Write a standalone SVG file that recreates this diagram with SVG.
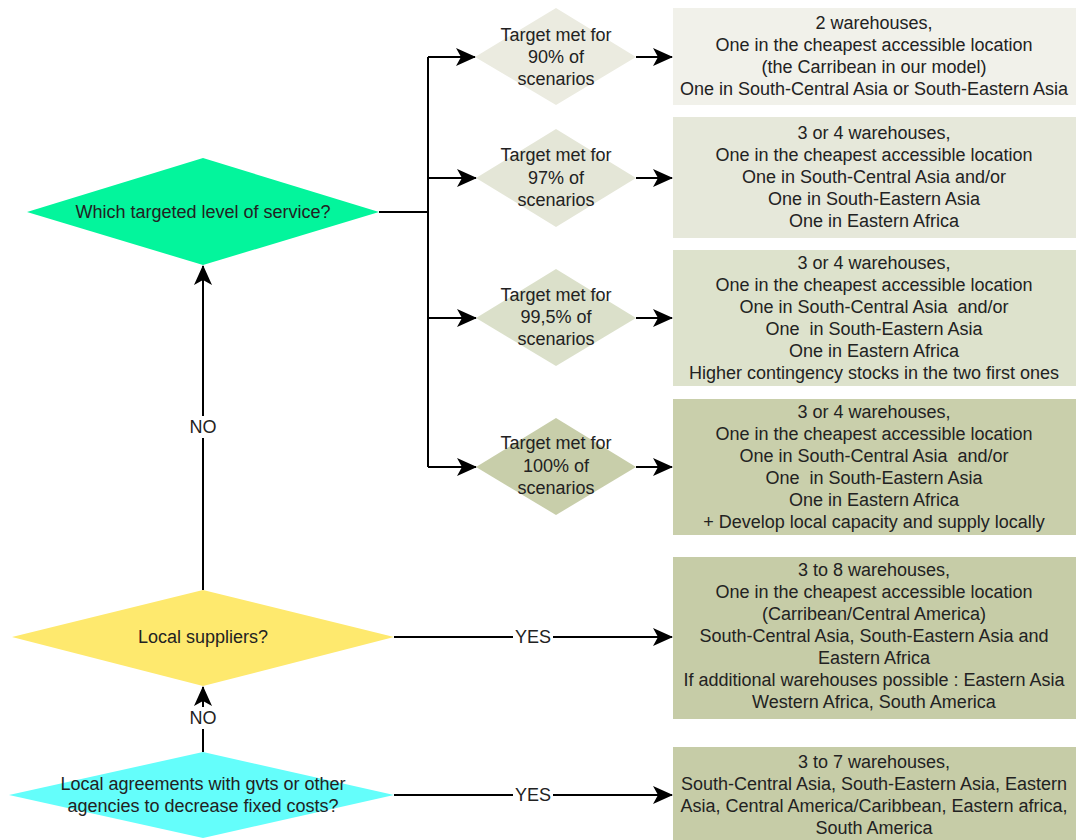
<svg xmlns="http://www.w3.org/2000/svg" width="1076" height="840" viewBox="0 0 1076 840">
<style>
text{font-family:"Liberation Sans",Arial,sans-serif;font-size:18px;fill:#222;text-anchor:middle}
.ln{stroke:#000;stroke-width:2;fill:none}
.arr{marker-end:url(#ah)}
.lbl{fill:#fff}
</style>
<defs>
<marker id="ah" markerUnits="userSpaceOnUse" markerWidth="20" markerHeight="18" refX="19" refY="9" orient="auto">
<path d="M0,0 L20,9 L0,18 L5,9 Z" fill="#000"/>
</marker>
</defs>
<rect width="1076" height="840" fill="#fff"/>
<g id="connectors">
<path class="ln" d="M379,212 H428"/>
<path class="ln" d="M428,57 V467"/>
<path class="ln arr" d="M428,57 H475"/>
<path class="ln arr" d="M428,178 H476"/>
<path class="ln arr" d="M428,318 H476"/>
<path class="ln arr" d="M428,467 H476"/>
<path class="ln arr" d="M636,57 H672"/>
<path class="ln arr" d="M636,178 H672"/>
<path class="ln arr" d="M636,318 H672"/>
<path class="ln arr" d="M636,467 H672"/>
<path class="ln arr" d="M203,590 V266"/>
<path class="ln arr" d="M203,752 V687"/>
<path class="ln arr" d="M394,637 H672"/>
<path class="ln arr" d="M394,795 H672"/>
<rect class="lbl" x="186" y="416" width="34" height="22"/>
<text x="203" y="433">NO</text>
<rect class="lbl" x="186" y="707" width="34" height="22"/>
<text x="203" y="724">NO</text>
<rect class="lbl" x="513" y="628" width="40" height="18"/>
<text x="533" y="643">YES</text>
<rect class="lbl" x="513" y="786" width="40" height="18"/>
<text x="533" y="801">YES</text>
</g>
<g id="q-service">
<polygon points="203,158 379,212 203,265 27,212" fill="#03f59c"/>
<text x="203" y="218">Which targeted level of service?</text>
</g>
<g id="q-suppliers">
<polygon points="203,590 394,637 203,686 12,637" fill="#fee96e"/>
<text x="203" y="643">Local suppliers?</text>
</g>
<g id="q-agreements">
<polygon points="203,752 394,795 203,838 9,795" fill="#64fefb"/>
<text x="203" y="790">Local agreements with gvts or other</text>
<text x="203" y="812">agencies to decrease fixed costs?</text>
</g>
<g id="t90">
<polygon points="556,8 636,57 556,105 475,57" fill="#ebebe0"/>
<text x="556" y="41">Target met for</text>
<text x="556" y="63">90% of</text>
<text x="556" y="85">scenarios</text>
</g>
<g id="t97">
<polygon points="556,129 636,178 556,227 476,178" fill="#e4e6d7"/>
<text x="556" y="161">Target met for</text>
<text x="556" y="184">97% of</text>
<text x="556" y="206">scenarios</text>
</g>
<g id="t995">
<polygon points="556,269 636,318 556,366 476,318" fill="#dbe0ca"/>
<text x="556" y="301">Target met for</text>
<text x="556" y="323">99,5% of</text>
<text x="556" y="345">scenarios</text>
</g>
<g id="t100">
<polygon points="556,418 636,467 556,515 476,467" fill="#c8ceaa"/>
<text x="556" y="449">Target met for</text>
<text x="556" y="472">100% of</text>
<text x="556" y="494">scenarios</text>
</g>
<g id="r90">
<rect x="673" y="8" width="403" height="97" fill="#f1f1ea"/>
<text x="874" y="29">2 warehouses,</text>
<text x="874" y="51">One in the cheapest accessible location</text>
<text x="874" y="73">(the Carribean in our model)</text>
<text x="874" y="95">One in South-Central Asia or South-Eastern Asia</text>
</g>
<g id="r97">
<rect x="673" y="117" width="403" height="121" fill="#e6e8da"/>
<text x="874" y="139">3 or 4 warehouses,</text>
<text x="874" y="161">One in the cheapest accessible location</text>
<text x="874" y="183">One in South-Central Asia and/or</text>
<text x="874" y="205">One in South-Eastern Asia</text>
<text x="874" y="227">One in Eastern Africa</text>
</g>
<g id="r995">
<rect x="673" y="250" width="403" height="136" fill="#dde2cc"/>
<text x="874" y="269">3 or 4 warehouses,</text>
<text x="874" y="291">One in the cheapest accessible location</text>
<text x="874" y="313" xml:space="preserve">One in South-Central Asia  and/or</text>
<text x="874" y="335" xml:space="preserve">One  in South-Eastern Asia</text>
<text x="874" y="357">One in Eastern Africa</text>
<text x="874" y="379">Higher contingency stocks in the two first ones</text>
</g>
<g id="r100">
<rect x="673" y="399" width="403" height="136" fill="#c9cfab"/>
<text x="874" y="418">3 or 4 warehouses,</text>
<text x="874" y="440">One in the cheapest accessible location</text>
<text x="874" y="462" xml:space="preserve">One in South-Central Asia  and/or</text>
<text x="874" y="484" xml:space="preserve">One  in South-Eastern Asia</text>
<text x="874" y="506">One in Eastern Africa</text>
<text x="874" y="528">+ Develop local capacity and supply locally</text>
</g>
<g id="r-suppliers">
<rect x="673" y="557" width="403" height="162" fill="#c6cca7"/>
<text x="874" y="576">3 to 8 warehouses,</text>
<text x="874" y="598">One in the cheapest accessible location</text>
<text x="874" y="620">(Carribean/Central America)</text>
<text x="874" y="642">South-Central Asia, South-Eastern Asia and</text>
<text x="874" y="664">Eastern Africa</text>
<text x="874" y="686">If additional warehouses possible : Eastern Asia</text>
<text x="874" y="708">Western Africa, South America</text>
</g>
<g id="r-agreements">
<rect x="673" y="747" width="403" height="93" fill="#c6cca7"/>
<text x="874" y="768">3 to 7 warehouses,</text>
<text x="874" y="790">South-Central Asia, South-Eastern Asia, Eastern</text>
<text x="874" y="812">Asia, Central America/Caribbean, Eastern africa,</text>
<text x="874" y="834">South America</text>
</g>
</svg>
